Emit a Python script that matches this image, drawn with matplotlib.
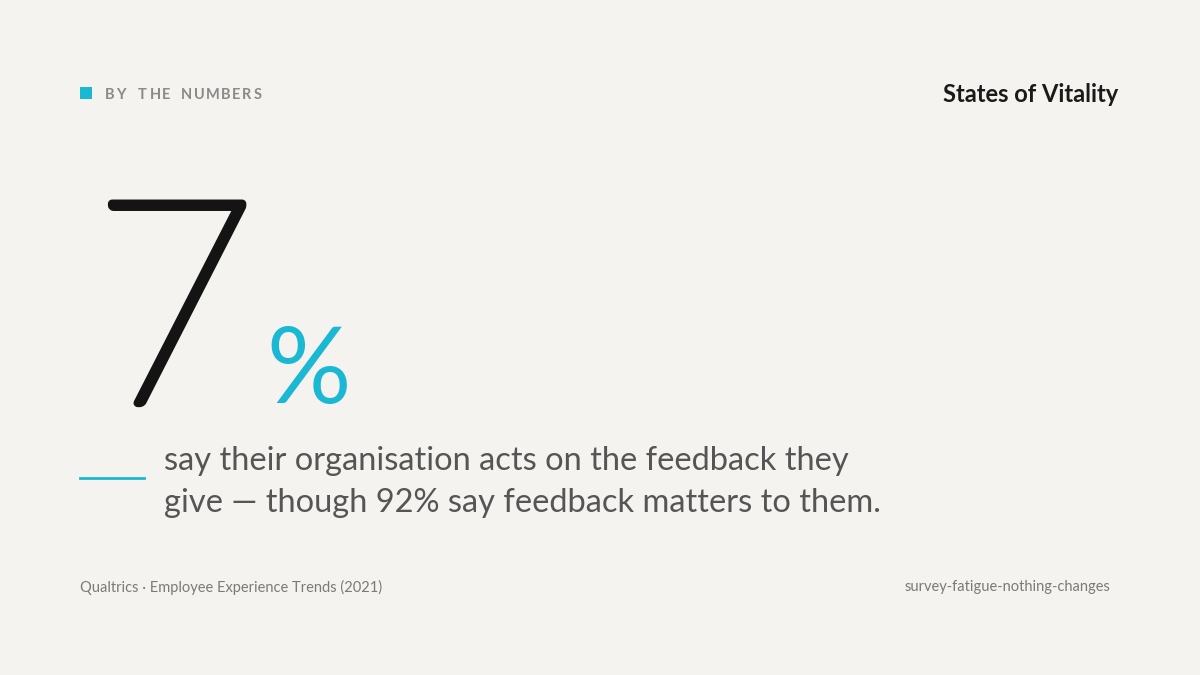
import matplotlib
matplotlib.use("Agg")
import matplotlib.pyplot as plt
import matplotlib.patheffects as pe
from matplotlib.patches import Rectangle
from matplotlib.lines import Line2D
from matplotlib.textpath import TextPath
from matplotlib.font_manager import FontProperties

W, H = 1200, 675
BG = "#f5f3ef"
CYAN = "#1bb8d3"
eyebrow = "BY THE NUMBERS"
brand = "States of Vitality"
stat_value = "7"
stat_unit = "%"
body_lines = ["say their organisation acts on the feedback they",
              "give — though 92% say feedback matters to them."]
source = "Qualtrics · Employee Experience Trends (2021)"
slug = "survey-fatigue-nothing-changes"

fig = plt.figure(figsize=(12, 6.75), dpi=100, facecolor=BG)
def X(x): return x / W
def Y(y): return 1 - y / H

fig.patches.append(Rectangle((X(80), Y(99)), 12 / W, 12 / H, transform=fig.transFigure,
                             facecolor=CYAN, edgecolor="none"))
fp = FontProperties(family=["Lato", "DejaVu Sans"], weight="bold", size=10.5)
x = 105
for ch in eyebrow:
    fig.text(X(x), Y(95), ch, fontproperties=fp, color="#8a8a8a", va="center", ha="left")
    w = TextPath((0, 0), ch, prop=fp).get_extents().width if ch != " " else 4.0
    x += w * 100 / 72 + 3.4

fig.text(X(1118), Y(95), brand, family=["Lato", "DejaVu Sans"], weight="bold", fontsize=17,
         color="#1a1a1a", ha="right", va="center")

fig.text(X(92), Y(403), stat_value, family=["Lato", "DejaVu Sans"], weight="light", fontsize=205,
         color="#141414", ha="left", va="baseline",
         path_effects=[pe.Stroke(linewidth=6, foreground="#141414"), pe.Normal()])
fig.text(X(266), Y(403), stat_unit, family=["Lato", "DejaVu Sans"], weight="normal", fontsize=76,
         color=CYAN, ha="left", va="baseline")

fig.lines.append(Line2D([X(80), X(144)], [Y(478), Y(478)], transform=fig.transFigure,
                        color=CYAN, lw=2))
for i, line in enumerate(body_lines):
    fig.text(X(164), Y(470 + 42 * i), line, family=["Lato", "DejaVu Sans"], fontsize=23.5,
             color="#555555", ha="left", va="baseline")

fig.text(X(80), Y(587), source, family=["Lato", "DejaVu Sans"], fontsize=10.5, color="#7a7a7a",
         ha="left", va="center")
fig.text(X(1110), Y(587), slug, family=["Lato", "DejaVu Sans"], fontsize=10.5, color="#7a7a7a",
         ha="right", va="center")

fig.savefig("out.png", dpi=100, facecolor=BG)
